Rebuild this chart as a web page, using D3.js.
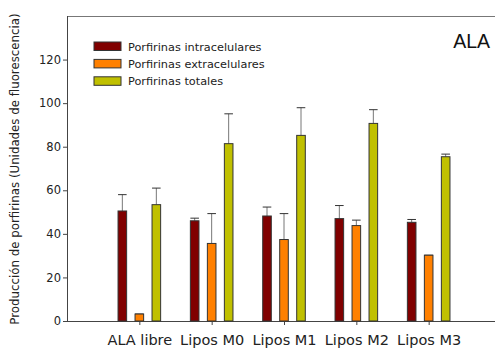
<!DOCTYPE html>
<html>
<head>
<meta charset="utf-8">
<script src="https://cdn.jsdelivr.net/npm/d3@7"></script>
<style>
  body { margin: 0; background: #fff; }
  svg { display: block; }
  .ejes text { font-family: "DejaVu Sans", Verdana, sans-serif; fill: #222; }
</style>
</head>
<body>
<div id="graf"></div>
<script>
const categorias = ['ALA libre', 'Lipos M0', 'Lipos M1', 'Lipos M2', 'Lipos M3']
const series = ['Porfirinas intracelulares', 'Porfirinas extracelulares', 'Porfirinas totales']
const intra = [50.5, 46, 48.2, 47, 45.3]
const intraErr = [58, 47.2, 52.3, 53, 46.6]
const extra = [3.2, 35.6, 37.4, 43.8, 30.2]
const extraErr = [3.2, 49.3, 49.3, 46.3, 30.2]
const totales = [53.4, 81.4, 85.2, 90.7, 75.4]
const totalesErr = [61, 95.1, 97.9, 97, 76.6]
const yTicks = [0, 20, 40, 60, 80, 100, 120]
const colores = ['#800000', '#ff8000', '#c0c000']

const anchoTotal = 495
const altoTotal = 349
const margin = { top: 16, left: 67, bottom: 28 }
const alto = altoTotal - margin.top - margin.bottom

const svg = d3.select('#graf')
  .append('svg')
  .attr('width', anchoTotal)
  .attr('height', altoTotal)

const g = svg.append('g')
  .attr('transform', `translate(${margin.left}, ${margin.top})`)

const y = d3.scaleLinear().domain([0, 140]).range([alto, 0])
const x = d3.scalePoint().domain(categorias).range([0, 434]).padding(1)
const xSub = d3.scalePoint().domain(series).range([-17, 17])
const anchoBarra = 8.6

const valores = [intra, extra, totales]
const errores = [intraErr, extraErr, totalesErr]

const data = []
series.forEach((s, si) => {
  categorias.forEach((c, ci) => {
    data.push({ cat: c, serie: s, v: valores[si][ci], e: errores[si][ci], color: colores[si] })
  })
})

// marco superior
g.append('line')
  .attr('x1', 0).attr('x2', anchoTotal - margin.left)
  .attr('y1', 0.5).attr('y2', 0.5)
  .attr('stroke', '#777').attr('stroke-width', 1)

// eje y
g.append('g')
  .attr('class', 'ejes')
  .call(d3.axisLeft(y).tickValues(yTicks).tickSize(4).tickSizeOuter(0))
  .call(s => s.select('.domain').attr('stroke', '#444').attr('d', `M0.5,${alto}V0`))
  .call(s => s.selectAll('.tick line').attr('stroke', '#444'))
  .call(s => s.selectAll('.tick text').attr('font-size', 11.5).attr('x', -6))

// eje x
g.append('g')
  .attr('class', 'ejes')
  .attr('transform', `translate(0, ${alto})`)
  .call(d3.axisBottom(x).tickSize(4).tickSizeOuter(0))
  .call(s => s.select('.domain').attr('stroke', '#444').attr('d', `M0,0.5H${anchoTotal - margin.left}`))
  .call(s => s.selectAll('.tick line').attr('stroke', '#444'))
  .call(s => s.selectAll('.tick text').attr('font-size', 14.5).attr('dy', '1.15em'))

// barras de error
const err = g.selectAll('.err').data(data).enter().append('g').attr('class', 'err')
err.append('line')
  .attr('x1', d => x(d.cat) + xSub(d.serie))
  .attr('x2', d => x(d.cat) + xSub(d.serie))
  .attr('y1', d => y(d.v))
  .attr('y2', d => y(d.e))
  .attr('stroke', '#777')
err.append('line')
  .attr('x1', d => x(d.cat) + xSub(d.serie) - anchoBarra / 2)
  .attr('x2', d => x(d.cat) + xSub(d.serie) + anchoBarra / 2)
  .attr('y1', d => y(d.e))
  .attr('y2', d => y(d.e))
  .attr('stroke', '#333')

// barras
g.selectAll('rect.barra').data(data).enter().append('rect')
  .attr('class', 'barra')
  .attr('x', d => x(d.cat) + xSub(d.serie) - anchoBarra / 2)
  .attr('y', d => y(d.v))
  .attr('width', anchoBarra)
  .attr('height', d => y(0) - y(d.v))
  .attr('fill', d => d.color)
  .attr('stroke', '#333')
  .attr('stroke-width', 1)

// leyenda
const ley = g.selectAll('.ley').data(series).enter().append('g')
  .attr('transform', (d, i) => `translate(27, ${26 + i * 17.4})`)
ley.append('rect')
  .attr('width', 27).attr('height', 8.5)
  .attr('fill', (d, i) => colores[i])
  .attr('stroke', '#333')
ley.append('text')
  .attr('x', 34).attr('y', 8.5)
  .attr('font-family', '"DejaVu Sans", Verdana, sans-serif')
  .attr('font-size', 11.3)
  .attr('fill', '#222')
  .text(d => d)

// etiqueta ALA
svg.append('text')
  .attr('x', 490).attr('y', 48)
  .attr('text-anchor', 'end')
  .attr('font-family', '"Liberation Sans", Arial, sans-serif')
  .attr('font-size', 19.5)
  .attr('fill', '#111')
  .text('ALA')

// titulo eje y
svg.append('text')
  .attr('transform', `translate(19, 169) rotate(-90)`)
  .attr('text-anchor', 'middle')
  .attr('font-family', '"DejaVu Sans", Verdana, sans-serif')
  .attr('font-size', 11.8)
  .attr('fill', '#222')
  .text('Producción de porfirinas (Unidades de fluorescencia)')
</script>
</body>
</html>
